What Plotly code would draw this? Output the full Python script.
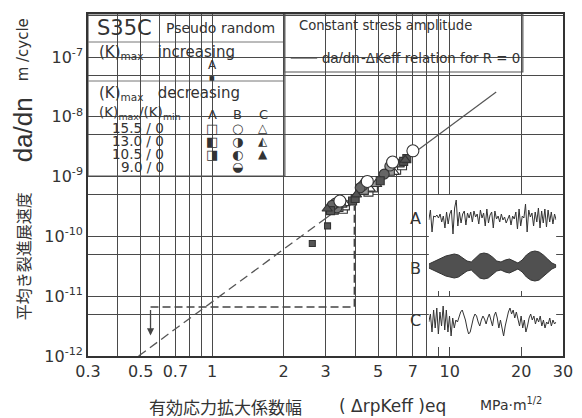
import numpy as np
import plotly.graph_objects as go

# ---------------- data ----------------
x_ticks = [0.3, 0.5, 0.7, 1, 2, 3, 5, 7, 10, 20, 30]
x_ticktext = ["0.3", "0.5", "0.7", "1", "2", "3", "5", "7", "10", "20", "30"]
x_minor = [0.4, 0.6, 0.8, 0.9, 4, 6, 8, 9]
y_ticks = [1e-12, 1e-11, 1e-10, 1e-9, 1e-8, 1e-7]
y_ticktext = ["10<sup>-12</sup>", "10<sup>-11</sup>", "10<sup>-10</sup>",
              "10<sup>-9</sup>", "10<sup>-8</sup>", "10<sup>-7</sup>"]
y_minor = [5e-12, 5e-11, 5e-10, 5e-9, 5e-8, 5e-7]

# da/dn - dKeff relation for R = 0 (constant amplitude)
rel_dash_x = [0.49, 3.0]
rel_dash_y = [1.0e-12, 2.0e-10]
rel_solid_x = [3.0, 15.7]
rel_solid_y = [2.0e-10, 2.6e-8]

# guide (dashed L + arrow)
guide_x = [0.55, 3.97, 3.97]
guide_y = [6.6e-12, 6.6e-12, 3.3e-10]
arrow_x = 0.55
arrow_y = 2.2e-12

# (K)max increasing, A
inc_A_x = [2.64, 3.06]
inc_A_y = [7.6e-11, 1.5e-10]

# (K)max decreasing
A155_x = [3.55, 3.62, 4.55, 4.75, 5.95, 6.3]
A155_y = [2.9e-10, 3.3e-10, 5.6e-10, 6.6e-10, 1.3e-9, 1.55e-9]
A130_x = [3.25, 3.4, 4.35, 5.6]
A130_y = [2.8e-10, 3.1e-10, 6.0e-10, 1.25e-9]
A105_x = [3.15, 3.9, 4.0, 5.1, 6.4, 6.6]
A105_y = [2.7e-10, 3.9e-10, 4.3e-10, 8.5e-10, 1.8e-9, 2.0e-9]
B155_x = [3.45, 4.5, 5.75, 7.0]
B155_y = [3.9e-10, 8.3e-10, 1.75e-9, 2.7e-9]
B130_x = [3.3, 4.3, 5.6]
B130_y = [3.6e-10, 7.0e-10, 1.5e-9]
B105_x = [3.2, 4.2, 5.3]
B105_y = [3.3e-10, 6.5e-10, 1.1e-9]
B090_x = [3.35, 4.4]
B090_y = [3.0e-10, 7.8e-10]
C155_x = [3.6, 4.6, 5.8]
C155_y = [3.6e-10, 6.3e-10, 1.2e-9]
C130_x = [3.5, 4.9, 6.1]
C130_y = [3.4e-10, 7.5e-10, 1.6e-9]
C105_x = [3.05, 4.05, 6.5]
C105_y = [2.9e-10, 5.0e-10, 1.9e-9]

# inset load wave forms (pixel-like units)
sig_A = [0, 10, -12, 4, 3, 5, 2, 6, -2, 4, -8, 8, -4, 6, 10, -14, 12, 20, -6, 8,
         -3, 6, 9, -5, 7, 2, 8, -2, 9, 3, 6, -4, 10, 2, 7, -6, 11, -3, 5, 8,
         -8, 9, 1, 4, -2, 6, 0, 3, -3, 2, 5, -5, 4, 1, 8, -9, 11, -6, 4, 2,
         16, -12, 10, 3, 7, -6, 8, -2, 12, -8, 9, -3, 11, -7, 10, -2, 8, -4, 6, 0]
env_B = [2, 4, 6, 8, 10, 11, 12, 11, 8, 5, 4, 8, 12, 13, 12, 9, 5, 4, 6, 7,
         5, 3, 6, 11, 14, 15, 14, 11, 7, 3, 1]
sig_C = [0, 8, -10, 12, -6, 14, -12, 10, -4, 16, -8, 12, -10, 6, -14, 4, -6, 2, 0, 6,
         10, 12, 8, 2, -6, -12, -10, -2, 4, 8, 6, 0, -4, 2, 6, 3, -2, 4, 8, 2,
         -4, 6, 10, 4, -6, 2, -8, -14, -4, 4, 10, 14, 8, 12, 4, 10, 2, -4, 6, -6,
         2, -10, -4, 4, 8, 2, 6, -2, 4, 0, 6, -4, 2, -6, 0, -2, 4, -4, 2, -2, 0]

# ---------------- layout helpers ----------------
W, H = 582, 418
L, R, T, B = 88, 9, 14, 62
PW, PH = W - L - R, H - T - B


def PX(px):
    return (px - L) / PW


def PY(py):
    return (H - B - py) / PH


INK = "#333333"
GRID = "#4a4a4a"
FONT = "DejaVu Sans"
NARROW = "Liberation Sans Narrow, Liberation Sans, DejaVu Sans"
CJK = "Noto Sans CJK JP"
NB = "\u00a0"

fig = go.Figure()

# relation line
fig.add_trace(go.Scatter(x=rel_dash_x, y=rel_dash_y, mode="lines",
                         line=dict(color="#555", width=1.3, dash="9px,5px"),
                         hoverinfo="skip"))
fig.add_trace(go.Scatter(x=rel_solid_x, y=rel_solid_y, mode="lines",
                         line=dict(color="#555", width=1.2), hoverinfo="skip"))
fig.add_trace(go.Scatter(x=guide_x, y=guide_y, mode="lines",
                         line=dict(color="#444", width=1.6, dash="8px,4px"),
                         hoverinfo="skip"))


def mk(xs, ys, symbol, fill, size):
    fig.add_trace(go.Scatter(x=xs, y=ys, mode="markers",
                             marker=dict(symbol=symbol, color=fill, size=size,
                                         line=dict(color=INK, width=1.1))))


mk(A155_x, A155_y, "square", "white", 9)
mk(C155_x, C155_y, "triangle-up", "white", 10)
mk(A130_x, A130_y, "square", "#999", 9)
mk(C130_x, C130_y, "triangle-up", "#999", 10)
mk(B090_x, B090_y, "circle", "#777", 10)
mk(B130_x, B130_y, "circle", "#999", 10)
mk(B105_x, B105_y, "circle", "#666", 10)
mk(A105_x, A105_y, "square", "#555", 8)
mk(C105_x, C105_y, "triangle-up", "#555", 9)
mk(B155_x, B155_y, "circle", "white", 12)
mk(inc_A_x, inc_A_y, "square", "#555", 6)

# inset wave forms
xa = np.linspace(0, 1, len(sig_A))
fig.add_trace(go.Scatter(x=xa, y=sig_A, xaxis="x2", yaxis="y2", mode="lines",
                         line=dict(color=INK, width=1), hoverinfo="skip"))
xb = np.linspace(0, 1, len(env_B))
eb = np.array(env_B, dtype=float)
fig.add_trace(go.Scatter(x=np.concatenate([xb, xb[::-1]]),
                         y=np.concatenate([eb, -eb[::-1]]),
                         xaxis="x2", yaxis="y3", mode="lines", fill="toself",
                         fillcolor="#505050", line=dict(color="#333", width=1),
                         hoverinfo="skip"))
xc = np.linspace(0, 1, len(sig_C))
fig.add_trace(go.Scatter(x=xc, y=sig_C, xaxis="x2", yaxis="y4", mode="lines",
                         line=dict(color=INK, width=1), hoverinfo="skip"))

shapes = []
# legend box 1
shapes.append(dict(type="rect", xref="paper", yref="paper",
                   x0=PX(88), x1=PX(289), y0=PY(176), y1=PY(14),
                   fillcolor="white", line=dict(color="#555", width=1.2),
                   layer="between"))
for yy in (42, 81):
    shapes.append(dict(type="line", xref="paper", yref="paper",
                       x0=PX(88), x1=PX(289), y0=PY(yy), y1=PY(yy),
                       line=dict(color="#777", width=1), layer="between"))
# legend box 2
shapes.append(dict(type="rect", xref="paper", yref="paper",
                   x0=PX(289), x1=PX(532), y0=PY(72), y1=PY(14),
                   fillcolor="white", line=dict(color="#555", width=1.2),
                   layer="between"))
# legend line sample
shapes.append(dict(type="line", xref="paper", yref="paper",
                   x0=PX(295), x1=PX(322), y0=PY(58), y1=PY(58),
                   line=dict(color="#444", width=1.2), layer="between"))
# inset area
shapes.append(dict(type="rect", xref="paper", yref="paper",
                   x0=PX(413), x1=PX(572), y0=PY(346), y1=PY(196),
                   fillcolor="white", line=dict(width=0), layer="between"))

ann = []


def txt(px, py, s, size=14, anchor="center", font=FONT, angle=0):
    ann.append(dict(x=PX(px), y=PY(py), xref="paper", yref="paper", text=s,
                    showarrow=False, xanchor=anchor, yanchor="middle",
                    textangle=angle,
                    font=dict(family=font, size=size, color=INK)))


txt(95, 28, "S35C", 21, "left")
txt(166, 28, "Pseudo random", 14, "left")
txt(97, 52, "(K)<sub>max</sub>" + NB * 3 + "increasing", 15, "left")
txt(215, 65, "A", 12)
txt(215, 77, "■", 6)
txt(97, 93, "(K)<sub>max</sub>" + NB * 3 + "decreasing", 15, "left")
txt(97, 113, "(K)<sub>max</sub>/(K)<sub>min</sub>", 13.5, "left")
txt(215, 114, "A", 13)
txt(241, 114, "B", 13)
txt(267, 114, "C", 13)
rows = [("15.5 / 0", 128, "□", "○", "△"),
        ("13.0 / 0", 141, "◧", "◑", "◭"),
        ("10.5 / 0", 154, "◨", "◐", "▲"),
        ("9.0 / 0", 167, None, "◒", None)]
for lab, yy, ga, gb, gc in rows:
    txt(168, yy, lab, 13.5, "right")
    if ga:
        txt(215, yy, ga, 13)
    if gb:
        txt(241, yy, gb, 13)
    if gc:
        txt(267, yy, gc, 12)

txt(301, 25, "Constant stress amplitude", 13.2, "left")
txt(325, 57, "da/dn", 15, "left", font=NARROW)
txt(365, 58, "-ΔKeff relation for R = 0", 13.4, "left")

txt(422, 219, "A", 16)
txt(422, 268, "B", 16)
txt(422, 320, "C", 16)

# axis titles
txt(22, 256, "平均き裂進展速度", 16, font=CJK, angle=-90)
txt(22, 130, "da/dn", 26, angle=-90, font=NARROW)
txt(22, 50, "m /cycle", 15, angle=-90)
txt(228, 406, "有効応力拡大係数幅", 17, font=CJK)
txt(399, 406, "( ΔrpKeff )eq", 17)
txt(520, 404, "MPa·m<sup>1/2</sup>", 14)

# arrow
ann.append(dict(x=np.log10(arrow_x), y=np.log10(arrow_y), xref="x", yref="y",
                ax=0, ay=-27, axref="pixel", ayref="pixel", showarrow=True,
                arrowhead=2, arrowsize=1.1, arrowwidth=1.3, arrowcolor="#444",
                text=""))

fig.update_layout(
    width=W, height=H, margin=dict(l=L, r=R, t=T, b=B),
    paper_bgcolor="white", plot_bgcolor="white", showlegend=False,
    shapes=shapes, annotations=ann,
    xaxis=dict(type="log", range=[np.log10(0.3), np.log10(30)],
               tickvals=x_ticks, ticktext=x_ticktext, ticks="",
               showgrid=True, gridcolor=GRID, gridwidth=1.1,
               minor=dict(tickvals=x_minor, showgrid=True, gridcolor=GRID,
                          gridwidth=1.1, ticks=""),
               showline=True, linecolor=INK, linewidth=1.6, mirror=True,
               zeroline=False,
               tickfont=dict(family=FONT, size=16, color=INK)),
    yaxis=dict(type="log", range=[-12, -6.281],
               tickvals=y_ticks, ticktext=y_ticktext, ticks="",
               showgrid=True, gridcolor=GRID, gridwidth=1.1,
               minor=dict(tickvals=y_minor, showgrid=True, gridcolor=GRID,
                          gridwidth=1.1, ticks=""),
               showline=True, linecolor=INK, linewidth=1.6, mirror=True,
               zeroline=False,
               tickfont=dict(family=FONT, size=16, color=INK)),
    xaxis2=dict(domain=[PX(436), PX(566)], range=[0, 1], visible=False,
                anchor="y2", fixedrange=True),
    yaxis2=dict(domain=[PY(245), PY(195)], range=[-25, 25], visible=False,
                anchor="x2"),
    yaxis3=dict(domain=[PY(291), PY(241)], range=[-25, 25], visible=False,
                anchor="x2"),
    yaxis4=dict(domain=[PY(347), PY(297)], range=[-25, 25], visible=False,
                anchor="x2"),
)

fig.write_html("out.html", config={"displayModeBar": False},
               post_script="document.body.style.margin='0';"
                           "document.body.style.overflow='hidden';")
